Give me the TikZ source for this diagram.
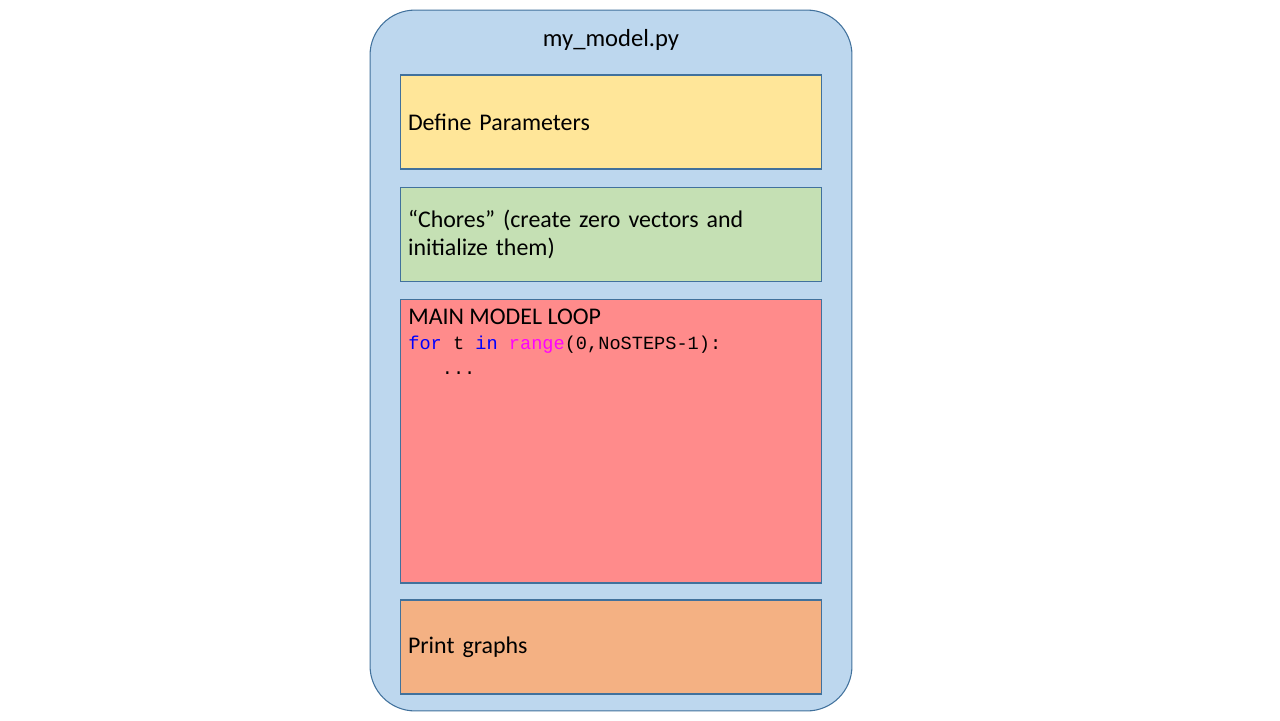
\documentclass[tikz,border=0pt]{standalone}
\usepackage{fontspec}
\setmainfont{Carlito}
\newfontfamily\codefont{Liberation Mono}
\usetikzlibrary{positioning}
\definecolor{filebg}{HTML}{BDD7EE}
\definecolor{edgeblue}{HTML}{41719C}
\definecolor{paramyellow}{HTML}{FFE699}
\definecolor{choregreen}{HTML}{C5E0B4}
\definecolor{loopred}{HTML}{FF8B8B}
\definecolor{printorange}{HTML}{F4B183}
\definecolor{kwblue}{HTML}{0000FF}
\definecolor{kwmag}{HTML}{FF00FF}
\tikzset{
  filebox/.style = {rectangle, rounded corners=0.9cm, draw=edgeblue, fill=filebg,
    line width=0.6pt, minimum width=9.64cm, minimum height=14.02cm},% whole script
  stepbox/.style = {rectangle, draw=edgeblue, line width=0.6pt, minimum width=8.44cm,
    minimum height=1.88cm, text width=8.12cm, inner xsep=0.16cm, align=left,
    font=\fontsize{13.6}{15.9}\selectfont},% one part of the script
  steptext/.style = {inner sep=0pt, align=left, anchor=north west},
}

\begin{document}
\begin{tikzpicture}[x=0.02cm,y=-0.02cm]
  \useasboundingbox (0,0) rectangle (1280,720);

  \node[filebox] (file) at (611,360.5) {};
  \node[font=\fontsize{14}{16}\selectfont] (title) at (611,40) {my\_model.py};

  \node[stepbox, fill=paramyellow] (params) at (611,122) {Define Parameters};
  \node[stepbox, fill=choregreen] (chores) at (611,234.5)
    {``Chores'' (create zero vectors and\\ initialize them)};
  \node[stepbox, fill=loopred, minimum height=5.68cm] (loop) at (611,441) {};
  \node[stepbox, fill=printorange] (graphs) at (611,647) {Print graphs};

  % main loop text
  \node[steptext, font=\fontsize{13.6}{14.2}\selectfont] (looptext) at (408,309)
    {MAIN MODEL LOOP\\
     {\codefont\fontsize{10.6}{14.2}\selectfont\textcolor{kwblue}{for} t
      \textcolor{kwblue}{in} \textcolor{kwmag}{range}(0,NoSTEPS-1):}\\
     {\codefont\fontsize{10.6}{14.2}\selectfont\phantom{for}...}};
\end{tikzpicture}
\end{document}
